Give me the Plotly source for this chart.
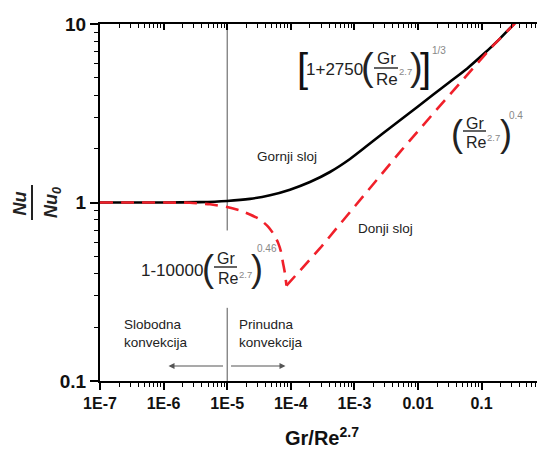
import plotly.graph_objects as go

# ---------------- data ----------------
black_x = [1e-7, 1e-6, 3.73e-6, 9.93e-6, 2.28e-5, 4.71e-5, 9.70e-5, 2.00e-4, 4.13e-4,
           8.53e-4, 1.58e-3, 2.82e-3, 5.21e-3, 9.64e-3, 0.01722, 0.03184, 0.05888,
           0.1052, 0.1945, 0.323]
black_y = [1.0, 1.0, 1.005, 1.020, 1.048, 1.098, 1.180, 1.302, 1.482, 1.753, 2.077,
           2.441, 2.888, 3.418, 4.017, 4.753, 5.623, 6.741, 8.288, 10.0]

red_dip_x = [1e-7, 1e-6, 2.60e-6, 5.37e-6, 9.93e-6, 1.59e-5, 2.28e-5, 3.28e-5,
             4.39e-5, 5.44e-5, 6.30e-5, 7.01e-5, 7.53e-5, 8.11e-5, 8.55e-5]
red_dip_y = [1.0, 1.0, 0.996, 0.977, 0.943, 0.902, 0.856, 0.803, 0.733, 0.661,
             0.596, 0.530, 0.460, 0.399, 0.342]

red_rise_x = [8.55e-5, 2.93e-4, 1.04e-3, 5.31e-3, 0.0175, 0.060, 0.154, 0.341]
red_rise_y = [0.342, 0.558, 0.962, 1.934, 3.162, 5.236, 7.621, 10.14]

divider_x = [1e-5, 1e-5, None, 1e-5, 1e-5]
divider_y = [10, 0.697, None, 0.257, 0.1]

x_tickvals = [1e-7, 1e-6, 1e-5, 1e-4, 1e-3, 1e-2, 1e-1]
x_ticktext = ["1E-7", "1E-6", "1E-5", "1E-4", "1E-3", "0.01", "0.1"]
y_tickvals = [0.1, 1, 10]
y_ticktext = ["0.1", "1", "10"]

x_minor = [m * 10.0 ** k for k in range(-7, 1) for m in range(2, 10)]
y_minor = [m * 10.0 ** k for k in range(-1, 1) for m in range(2, 10)]

FONT = "Liberation Sans"
W, H = 537, 450
ML, MR, MT, MB = 100, 0, 24, 69
PW, PH = W - ML - MR, H - MT - MB


def P(px, py):
    return (px - ML) / PW, (H - MB - py) / PH


fig = go.Figure()

fig.add_trace(go.Scatter(x=divider_x, y=divider_y, mode="lines",
                         line=dict(color="#555555", width=1), hoverinfo="skip"))
fig.add_trace(go.Scatter(x=black_x, y=black_y, mode="lines",
                         line=dict(color="black", width=2.6, shape="spline", smoothing=0.6)))
fig.add_trace(go.Scatter(x=red_dip_x, y=red_dip_y, mode="lines",
                         line=dict(color="#f0202a", width=2.6, dash="13px,8px",
                                   shape="spline", smoothing=0.6)))
fig.add_trace(go.Scatter(x=red_rise_x, y=red_rise_y, mode="lines",
                         line=dict(color="#f0202a", width=2.6, dash="13px,8px")))
# invisible trace for the top axis
fig.add_trace(go.Scatter(x=[1e-7, 0.5], y=[1, 1], xaxis="x2", mode="lines",
                         line=dict(width=0), opacity=0, hoverinfo="skip"))

xr = [-7, -7 + PW / 63.6]

fig.update_layout(
    width=W, height=H, margin=dict(l=ML, r=MR, t=MT, b=MB),
    paper_bgcolor="white", plot_bgcolor="white", showlegend=False,
    font=dict(family=FONT, color="black"),
    xaxis=dict(type="log", range=xr, showgrid=False, zeroline=False,
               showline=True, linecolor="black", linewidth=2,
               ticks="outside", ticklen=7, tickwidth=1.5, tickcolor="black",
               tickvals=x_tickvals, ticktext=["<b>%s</b>" % t for t in x_ticktext],
               tickfont=dict(family=FONT, size=16, color="#111"),
               minor=dict(tickvals=x_minor, ticks="outside", ticklen=4,
                          tickwidth=1.2, tickcolor="black", showgrid=False)),
    xaxis2=dict(type="log", range=xr, overlaying="x", side="top", matches="x",
                showgrid=False, zeroline=False, showline=True, linecolor="black",
                linewidth=2, ticks="inside", ticklen=6, tickwidth=1.5,
                tickcolor="black", tickvals=x_tickvals, showticklabels=False,
                minor=dict(tickvals=x_minor, ticks="inside", ticklen=3.5,
                           tickwidth=1.2, tickcolor="black", showgrid=False)),
    yaxis=dict(type="log", range=[-1, 1], showgrid=False, zeroline=False,
               showline=True, linecolor="black", linewidth=2,
               ticks="outside", ticklen=8, tickwidth=1.5, tickcolor="black",
               tickvals=y_tickvals, ticktext=["<b>%s</b>" % t for t in y_ticktext],
               tickfont=dict(family=FONT, size=19, color="#111"),
               minor=dict(tickvals=y_minor, ticks="outside", ticklen=4.5,
                          tickwidth=1.2, tickcolor="black", showgrid=False)),
)

ann = []
shapes = []


def text(px, py, s, size=13, color="#222", xanchor="center", bold=False,
         italic=False, angle=0, align="center"):
    x, y = P(px, py)
    if bold:
        s = "<b>" + s + "</b>"
    if italic:
        s = "<i>" + s + "</i>"
    ann.append(dict(x=x, y=y, xref="paper", yref="paper", text=s, showarrow=False,
                    xanchor=xanchor, yanchor="middle", textangle=angle, align=align,
                    font=dict(family=FONT, size=size, color=color),
                    borderpad=0))


def hbar(px0, px1, py, w=1.4, color="#222"):
    x0, y0 = P(px0, py)
    x1, _ = P(px1, py)
    shapes.append(dict(type="line", xref="paper", yref="paper", x0=x0, x1=x1,
                       y0=y0, y1=y0, line=dict(color=color, width=w)))


def fraction(gr_cx, gr_py, bar0, bar1, bar_py, re_left, re_py, sup_left, sup_py, size):
    text(gr_cx, gr_py, "Gr", size=size)
    hbar(bar0, bar1, bar_py)
    text(re_left, re_py, "Re", size=size, xanchor="left")
    text(sup_left, sup_py, "2.7", size=9.5, color="#888", xanchor="left")


# formula 1 : [1+2750(Gr/Re^2.7)]^1/3
text(302, 68, "[", size=40, color="#111")
text(334, 69, "1+2750", size=17)
text(367, 67, "(", size=38, color="#222")
fraction(386, 58, 374, 398, 68, 375, 79, 398, 72, 17)
text(416, 67, ")", size=38, color="#222")
text(425, 68, "]", size=40, color="#111")
text(431, 51, "1/3", size=10, color="#888", xanchor="left")

# formula 2 : (Gr/Re^2.7)^0.4
text(457, 133, "(", size=36, color="#222")
fraction(475, 123, 463, 486, 131, 465, 142, 486, 137, 16)
text(506, 133, ")", size=36, color="#222")
text(508, 115, "0.4", size=10, color="#888", xanchor="left")

# formula 3 : 1-10000(Gr/Re^2.7)^0.46
text(172, 270, "1-10000", size=17)
text(208, 268, "(", size=36, color="#222")
fraction(226, 258, 214, 237, 267, 217, 278, 238, 274, 16)
text(257, 268, ")", size=36, color="#222")
text(256, 248, "0.46", size=10, color="#888", xanchor="left")

# region labels
text(287, 156, "Gornji sloj", size=13.5)
text(357, 228, "Donji sloj", size=13.5, xanchor="left")
text(123, 333, "Slobodna<br>konvekcija", size=13.5, xanchor="left", align="left")
text(238, 333, "Prinudna<br>konvekcija", size=13.5, xanchor="left", align="left")

# arrows (log axis coordinates for annotations)
ann.append(dict(x=-5.923, y=-0.916, xref="x", yref="y", ax=56, ay=0, text="",
                showarrow=True, arrowhead=2, arrowsize=1, arrowwidth=1.2,
                arrowcolor="#555"))
ann.append(dict(x=-4.083, y=-0.916, xref="x", yref="y", ax=-56, ay=0, text="",
                showarrow=True, arrowhead=2, arrowsize=1, arrowwidth=1.2,
                arrowcolor="#555"))

# axis titles
text(19.5, 204, "Nu", size=18, bold=True, italic=True, angle=-90, color="#222")
x0, y0 = P(32, 185)
_, y1 = P(32, 220)
shapes.append(dict(type="line", xref="paper", yref="paper", x0=x0, x1=x0,
                   y0=y0, y1=y1, line=dict(color="#222", width=2)))
text(52, 203, "Nu<sub>0</sub>", size=18, bold=True, italic=True, angle=-90,
     color="#222")
text(322, 437, "Gr/Re<sup>2.7</sup>", size=20, bold=True, color="#111")

fig.update_layout(annotations=ann, shapes=shapes)
fig.write_html("out.html")
